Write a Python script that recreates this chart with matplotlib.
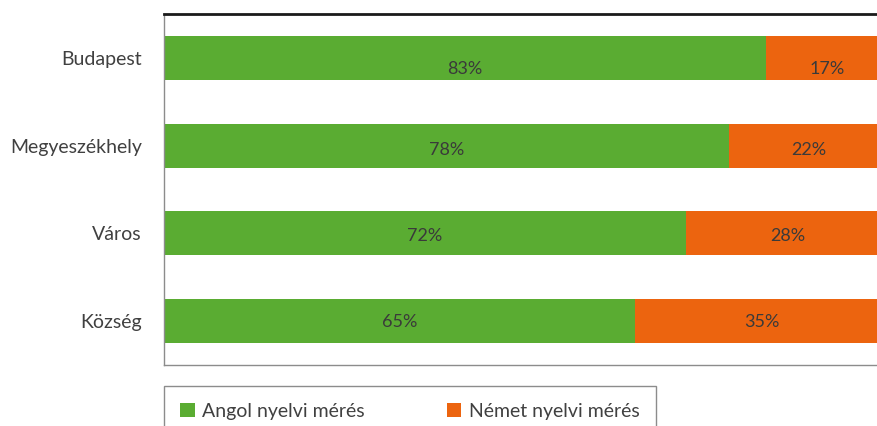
import matplotlib
matplotlib.use("Agg")
import matplotlib.pyplot as plt
from matplotlib.patches import Rectangle
import numpy as np

categories = ["Budapest", "Megyeszékhely", "Város", "Község"]
angol = [83, 78, 72, 65]
nemet = [17, 22, 28, 35]
series_names = ["Angol nyelvi mérés", "Német nyelvi mérés"]
label_fmt = "{}%"

# styling: small vertical nudge of the in-bar labels (as in the reference)
label_nudge = [0.13, 0.045, 0.035, 0.01]

GREEN = "#5aac32"
ORANGE = "#ec640f"
TXT = "#404040"

plt.rcParams['font.family'] = ['Lato', 'DejaVu Sans']

W, H = 878, 426
fig = plt.figure(figsize=(W/100, H/100), dpi=100)
ax = fig.add_axes([164/W, 1-365/H, (889-164)/W, (365-14)/H])

y = np.arange(len(categories))
b1 = ax.barh(y, angol, height=0.5, color=GREEN, label=series_names[0])
b2 = ax.barh(y, nemet, left=angol, height=0.5, color=ORANGE, label=series_names[1])

for vals, lefts in ((angol, [0]*len(angol)), (nemet, angol)):
    for yi, v, l, dn in zip(y, vals, lefts, label_nudge):
        ax.text(l + v/2, yi + dn, label_fmt.format(v), ha="center", va="center",
                fontsize=13, color="#3a3a3a")

ax.set_xlim(0, 100)
ax.set_ylim(3.5, -0.5)
ax.set_yticks(y)
ax.set_yticklabels(categories, fontsize=14, color=TXT)
ax.tick_params(axis="y", length=0, pad=16)
ax.set_xticks([])

ax.spines["top"].set_color("#1a1a1a")
ax.spines["top"].set_linewidth(2.0)
for s in ("left", "bottom", "right"):
    ax.spines[s].set_color("#8c8c8c")
    ax.spines[s].set_linewidth(1.0)

# legend frame
fig.patches.append(Rectangle((164/W, -0.05), (656-164)/W, (0.05 + 1 - 386/H),
                             transform=fig.transFigure, facecolor="white",
                             edgecolor="#8c8c8c", linewidth=1.0, zorder=0))

leg = fig.legend(handles=[b1, b2], labels=series_names, loc="center left",
                 bbox_to_anchor=(180/W, 1-411/H), ncol=2, frameon=False,
                 fontsize=14, handlelength=0.75, handleheight=0.75,
                 handletextpad=0.4, borderpad=0, borderaxespad=0,
                 columnspacing=4.2, labelcolor=TXT)

fig.savefig("out.png", dpi=100)
